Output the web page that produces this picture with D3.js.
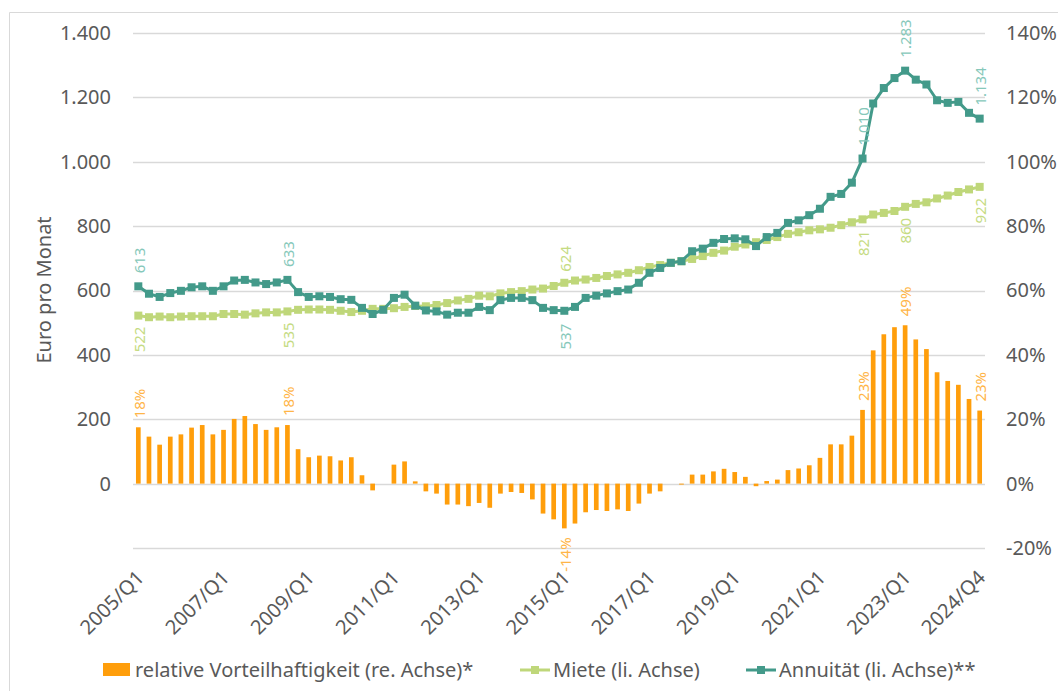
<!DOCTYPE html>
<html>
<head>
<meta charset="utf-8">
<script src="https://cdn.jsdelivr.net/npm/d3@7"></script>
<style>
body{margin:0;background:#fff;}
svg{display:block;font-family:"Noto Sans",sans-serif;}
</style>
</head>
<body>
<svg width="1058" height="691"></svg>
<script>
// Quartale 2005/Q1 - 2024/Q4
var quartale = [];
for (var j = 2005; j <= 2024; j++) {
	for (var q = 1; q <= 4; q++) quartale.push(j + "/Q" + q);
}
var xTicks = ["2005/Q1","2007/Q1","2009/Q1","2011/Q1","2013/Q1","2015/Q1","2017/Q1","2019/Q1","2021/Q1","2023/Q1","2024/Q4"];

// relative Vorteilhaftigkeit in %
var vorteil = [
	17.5,14.6,12.1,14.6,15.3,17.4,18.2,15.3,16.7,20.1,21.0,18.5,16.7,17.5,18.2,10.7,
	8.2,8.7,8.5,7.2,8.2,2.6,-2.1,0,5.9,6.9,0.7,-2.4,-3.1,-6.5,-6.5,-7.0,
	-6.0,-7.5,-3.1,-2.6,-2.9,-4.9,-9.3,-11.1,-13.9,-12.4,-8.9,-8.2,-8.5,-8.0,-8.5,-6.2,
	-3.1,-2.4,0,-0.3,2.8,2.8,3.8,4.6,3.6,2.1,-0.8,0.8,1.25,4.2,4.7,5.7,
	8.0,12.2,12.2,14.9,22.9,41.4,46.4,48.6,49.2,44.8,41.8,34.6,31.9,30.7,26.3,22.7
];
// Miete Euro pro Monat
var miete = [
	522,517,519,517,519,520,520,520,527,527,525,529,532,532,535,540,
	541,541,540,537,533,537,543,543,545,549,552,551,555,561,569,574,
	584,582,591,595,598,603,606,614,624,631,634,639,645,650,655,663,
	673,679,686,691,698,707,717,724,736,743,750,757,766,776,781,787,
	790,795,803,812,821,836,841,847,860,869,874,886,895,906,914,922
];
// Annuität Euro pro Monat
var annuitaet = [
	613,590,580,592,599,610,613,599,613,631,633,625,620,625,633,595,
	580,582,580,573,571,546,527,540,577,587,553,538,535,525,531,531,
	549,539,570,577,577,570,546,539,537,549,577,584,591,598,603,624,
	655,670,686,691,722,730,748,760,762,759,738,766,779,810,818,834,
	854,891,900,935,1010,1181,1229,1260,1283,1255,1240,1191,1183,1186,1152,1134
];

// Datenbeschriftungen (Index, oben/unten)
var vorteilLabels = [[0,"o"],[14,"o"],[40,"u"],[68,"o"],[72,"o"],[79,"o"]];
var mieteLabels = [[0,"u"],[14,"u"],[40,"o"],[68,"u"],[72,"u"],[79,"u"]];
var annuitaetLabels = [[0,"o"],[14,"o"],[40,"u"],[68,"o"],[72,"o"],[79,"o"]];

var linksTicks = [0,200,400,600,800,1000,1200,1400];
var rechtsTicks = [-20,0,20,40,60,80,100,120,140];
var gitter = [-200,0,200,400,600,800,1000,1200,1400];

var W = 1058, H = 691;
var x0 = 133, x1 = 985, yTop = 33, yBot = 548;
var grau = "#595959";
var farbeBar = "#FF9E0B", farbeMiete = "#BFD77A", farbeAnn = "#439A8A";

var de = d3.formatLocale({decimal: ",", thousands: ".", grouping: [3], currency: ["", "€"], minus: "-"});
var fmt = de.format(",");

var svg = d3.select("svg");

// Rahmen
svg.append("path")
	.attr("d", "M9.5," + H + "V12.5H" + W)
	.attr("fill", "none")
	.attr("stroke", "#d9d9d9");

var x = d3.scaleBand().domain(quartale).range([x0, x1]).paddingInner(0.56).paddingOuter(0.28);
var yL = d3.scaleLinear().domain([-200, 1400]).range([yBot, yTop]);
var yR = d3.scaleLinear().domain([-20, 140]).range([yBot, yTop]);
function cx(i) { return x(quartale[i]) + x.bandwidth() / 2; }

//Gitternetz
svg.append("g").selectAll("line")
	.data(gitter)
	.join("line")
	.attr("x1", x0).attr("x2", x1)
	.attr("y1", function(d){ return Math.round(yL(d)) + 0.5; })
	.attr("y2", function(d){ return Math.round(yL(d)) + 0.5; })
	.attr("stroke", "#d9d9d9").attr("stroke-width", 1.3);

//Achsen
var axL = svg.append("g").attr("transform", "translate(111,0)")
	.call(d3.axisLeft(yL).tickValues(linksTicks).tickSize(0).tickPadding(0).tickFormat(fmt));
var axR = svg.append("g").attr("transform", "translate(1006,0)")
	.call(d3.axisRight(yR).tickValues(rechtsTicks).tickSize(0).tickPadding(0).tickFormat(function(d){ return d + "%"; }));
var axX = svg.append("g").attr("transform", "translate(2,574)")
	.call(d3.axisBottom(x).tickValues(xTicks).tickSize(0).tickPadding(0));
[axL, axR, axX].forEach(function(a){
	a.select(".domain").remove();
	a.selectAll("text").attr("font-size", 20).attr("fill", grau).attr("font-family", "Noto Sans");
});
axX.selectAll("text")
	.attr("y", 0).attr("dy", "0.35em")
	.attr("transform", "rotate(-45)")
	.attr("text-anchor", "end");

svg.append("text")
	.attr("transform", "translate(44,290) rotate(-90)")
	.attr("text-anchor", "middle").attr("dy", "0.35em")
	.attr("font-size", 20).attr("fill", grau)
	.text("Euro pro Monat");

//Balken
svg.append("g").selectAll("rect")
	.data(vorteil)
	.join("rect")
	.attr("x", function(d, i){ return x(quartale[i]); })
	.attr("width", x.bandwidth())
	.attr("y", function(d){ return yR(Math.max(0, d)); })
	.attr("height", function(d){ return Math.abs(yR(d) - yR(0)); })
	.attr("fill", farbeBar);

//Linien
function zeichneLinie(werte, farbe) {
	var line = d3.line().x(function(d, i){ return cx(i); }).y(function(d){ return yL(d); });
	var g = svg.append("g");
	g.append("path").attr("d", line(werte)).attr("fill", "none")
		.attr("stroke", farbe).attr("stroke-width", 3).attr("stroke-linejoin", "round");
	g.selectAll("rect").data(werte).join("rect")
		.attr("x", function(d, i){ return cx(i) - 4; })
		.attr("y", function(d){ return yL(d) - 4; })
		.attr("width", 8).attr("height", 8)
		.attr("fill", farbe);
}
zeichneLinie(miete, farbeMiete);
zeichneLinie(annuitaet, farbeAnn);

//Beschriftung
function beschrift(liste, px, py, txt, farbe, abstand) {
	svg.append("g").selectAll("text")
		.data(liste)
		.join("text")
		.attr("transform", function(d){ return "translate(" + (px(d[0]) + 1) + "," + py(d[0]) + ") rotate(-90)"; })
		.attr("x", function(d){ return d[1] == "o" ? abstand : -abstand; })
		.attr("dy", "0.35em")
		.attr("text-anchor", function(d){ return d[1] == "o" ? "start" : "end"; })
		.attr("font-size", 15)
		.attr("fill", farbe)
		.text(function(d){ return txt(d[0]); });
}
beschrift(vorteilLabels, cx, function(i){ return yR(vorteil[i]); },
	function(i){ return Math.round(vorteil[i]) + "%"; }, "#FFB547", 9);
beschrift(mieteLabels, cx, function(i){ return yL(miete[i]); },
	function(i){ return fmt(miete[i]); }, "#C5DB82", 11);
beschrift(annuitaetLabels, cx, function(i){ return yL(annuitaet[i]); },
	function(i){ return fmt(annuitaet[i]); }, "#86C8BA", 13);

//Legende
var leg = svg.append("g").attr("font-size", 20).attr("fill", grau);
leg.append("rect").attr("x", 103).attr("y", 663).attr("width", 27).attr("height", 13).attr("fill", farbeBar);
leg.append("text").attr("x", 135).attr("y", 670).attr("dy", "0.35em").text("relative Vorteilhaftigkeit (re. Achse)*");
[[520, farbeMiete, "Miete (li. Achse)"], [746, farbeAnn, "Annuität (li. Achse)**"]].forEach(function(e){
	leg.append("line").attr("x1", e[0]).attr("x2", e[0] + 30).attr("y1", 670).attr("y2", 670)
		.attr("stroke", e[1]).attr("stroke-width", 3);
	leg.append("rect").attr("x", e[0] + 11).attr("y", 666).attr("width", 8).attr("height", 8).attr("fill", e[1]);
	leg.append("text").attr("x", e[0] + 33).attr("y", 670).attr("dy", "0.35em").text(e[2]);
});
</script>
</body>
</html>
